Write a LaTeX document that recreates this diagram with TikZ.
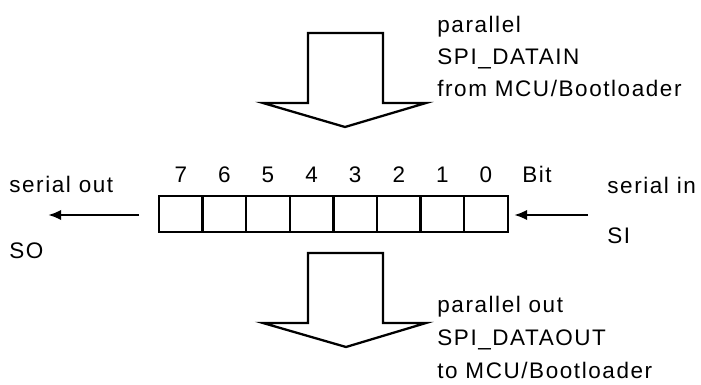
\documentclass[tikz,border=0pt]{standalone}
\usepackage{fontspec}
\setmainfont{Liberation Sans}[LetterSpace=7]
\usepackage{tikz}
\usetikzlibrary{arrows.meta}

\begin{document}
\begin{tikzpicture}[x=0.02cm,y=-0.02cm,
  bitcell/.style={draw=black,line width=1.3pt,minimum width=0.872cm,minimum height=0.72cm},
  lbl/.style={anchor=base west,font=\fontsize{12.8}{15}\selectfont},
  bitnum/.style={anchor=base,font=\fontsize{12.8}{15}\selectfont},
  bigarrow/.style={draw=black,line width=1.3pt,line join=miter},
  sarrow/.style={draw=black,line width=1.4pt,-{Latex[length=7.5pt,width=6pt]}}]
\tikzstyle{every node}+=[inner sep=0pt]
\useasboundingbox (0,0) rectangle (701,385);
% parallel in
\draw [bigarrow] (308,33) -- (383,33) -- (383,103) -- (426,103) -- (345,127) -- (263,103) -- (308,103) -- cycle;
\node [lbl] (pin1) at (437,33) {parallel};
\node [lbl] (pin2) at (437,64.5) {SPI\_DATAIN};
\node [lbl] (pin3) at (437,97) {from MCU/Bootloader};
% shift register
\node [bitcell] (b7) at (180.8,214) {};
\node [bitcell] (b6) at (224.4,214) {};
\node [bitcell] (b5) at (268,214) {};
\node [bitcell] (b4) at (311.6,214) {};
\node [bitcell] (b3) at (355.2,214) {};
\node [bitcell] (b2) at (398.8,214) {};
\node [bitcell] (b1) at (442.4,214) {};
\node [bitcell] (b0) at (486,214) {};
\node [bitnum] (n7) at (180.8,183) {7};
\node [bitnum] (n6) at (224.4,183) {6};
\node [bitnum] (n5) at (268,183) {5};
\node [bitnum] (n4) at (311.6,183) {4};
\node [bitnum] (n3) at (355.2,183) {3};
\node [bitnum] (n2) at (398.8,183) {2};
\node [bitnum] (n1) at (442.4,183) {1};
\node [bitnum] (n0) at (486,183) {0};
\node [lbl] (bit) at (522,183) {Bit};
% serial out
\node [lbl] (sout) at (9,193) {serial out};
\node [lbl] (so) at (9,259) {SO};
\coordinate (soend) at (139,215);
\coordinate (sotip) at (48,215);
\draw [sarrow] (soend) -- (sotip);
% serial in
\node [lbl] (sin) at (607,194) {serial in};
\node [lbl] (si) at (607,244) {SI};
\coordinate (sistart) at (588,215);
\coordinate (sitip) at (514,215);
\draw [sarrow] (sistart) -- (sitip);
% parallel out
\draw [bigarrow] (308,253) -- (383,253) -- (383,323) -- (426,323) -- (346,347) -- (263,323) -- (308,323) -- cycle;
\node [lbl] (pout1) at (437,313) {parallel out};
\node [lbl] (pout2) at (437,346) {SPI\_DATAOUT};
\node [lbl] (pout3) at (437,378) {to MCU/Bootloader};
\end{tikzpicture}
\end{document}
